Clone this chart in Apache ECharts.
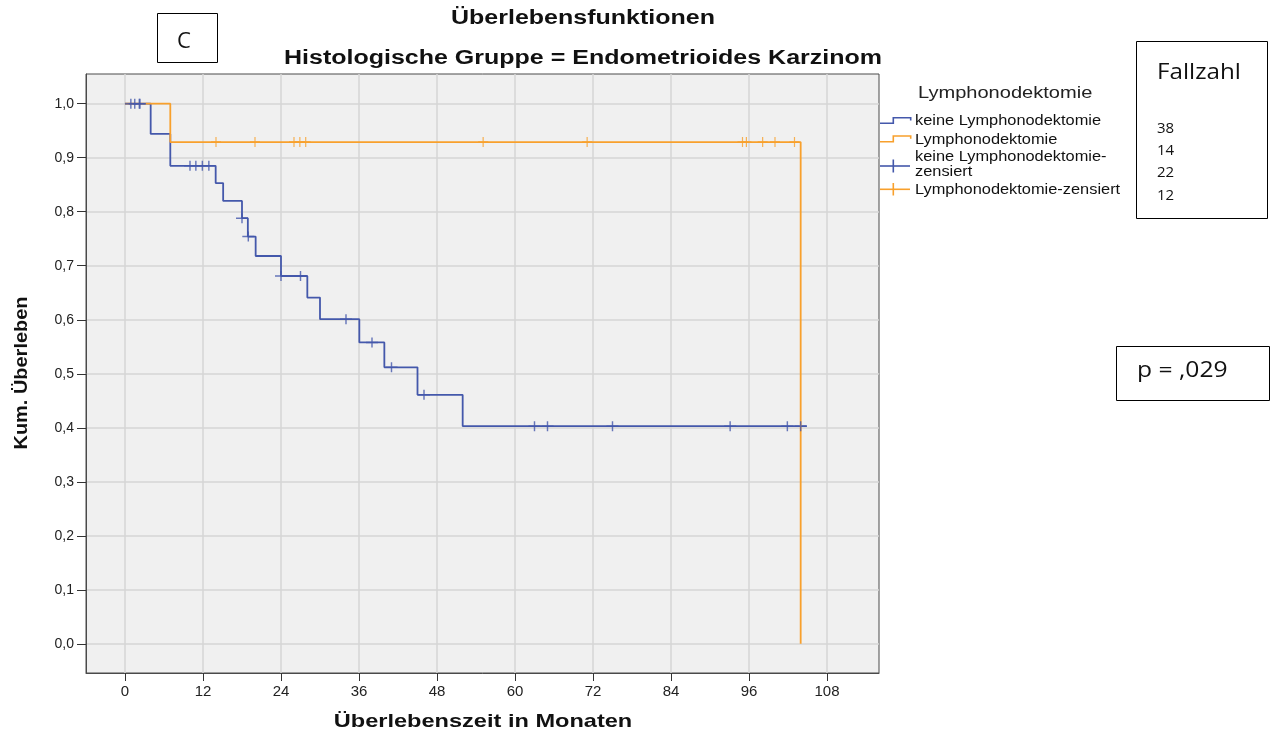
<!DOCTYPE html>
<html>
<head>
<meta charset="utf-8">
<script src="https://cdn.jsdelivr.net/npm/echarts@6/dist/echarts.min.js"></script>
<style>
html,body{margin:0;padding:0;background:#fff;}
#c{width:1273px;height:735px;}
</style>
</head>
<body>
<div id="c"></div>
<script>
// ---- data ----
const xTicks = [0, 12, 24, 36, 48, 60, 72, 84, 96, 108];
const yTicks = [0, 0.1, 0.2, 0.3, 0.4, 0.5, 0.6, 0.7, 0.8, 0.9, 1.0];

const seriesNames = ['keine Lymphonodektomie', 'Lymphonodektomie',
  'keine Lymphonodektomie-zensiert', 'Lymphonodektomie-zensiert'];
const caseCounts = ['38', '14', '22', '12'];
const pValue = 'p = ,029';

// Kaplan-Meier steps: [month, survival after the step]
const keineSteps = [[0, 1.0], [3.95, 0.944], [6.97, 0.885], [13.95, 0.853], [15.1, 0.820],
  [18.0, 0.788], [18.9, 0.754], [20.1, 0.718], [24.0, 0.681], [28.05, 0.641],
  [30.0, 0.601], [36.05, 0.558], [39.9, 0.512], [45.0, 0.461], [51.95, 0.403], [104.9, 0.403]];
const lymphSteps = [[0, 1.0], [6.97, 0.929], [103.95, 0.929], [103.95, 0.0]];

// censored observations
const keineCensored = [[0.9, 1.0], [1.5, 1.0], [2.2, 1.0], [2.3, 1.0],
  [10.0, 0.885], [10.9, 0.885], [11.9, 0.885], [12.9, 0.885],
  [18.0, 0.788], [18.97, 0.754], [24.0, 0.681], [27.0, 0.681], [34.0, 0.601],
  [38.0, 0.558], [41.0, 0.512], [46.0, 0.461],
  [63.0, 0.403], [65.0, 0.403], [75.0, 0.403], [93.1, 0.403], [101.9, 0.403], [103.95, 0.403]];
const lymphCensored = [[14.0, 0.929], [20.0, 0.929], [26.0, 0.929], [26.9, 0.929], [27.8, 0.929],
  [55.1, 0.929], [71.1, 0.929], [95.0, 0.929], [95.6, 0.929], [98.1, 0.929],
  [100.0, 0.929], [103.0, 0.929]];

// ---- styles ----
const BLUE = '#4458ab';
const ORANGE = '#f8a02c';
const CROSS = 'path://M-1,-0.15 L1,-0.15 L1,0.15 L-1,0.15 Z M-0.12,-1 L0.12,-1 L0.12,1 L-0.12,1 Z';
const SANS = '"Liberation Sans", Arial, sans-serif';
const SOFT = '"Open Sans", "Noto Sans", sans-serif';

function txt(text, x, y, font, opts) {
  opts = opts || {};
  return {
    type: 'text', x: x, y: y,
    rotation: opts.rotation || 0,
    scaleX: opts.scaleX || 1,
    z: 100,
    style: {
      text: text, font: font, fill: opts.fill || '#111',
      align: opts.align || 'left', textAlign: opts.align || 'left',
      verticalAlign: 'middle', textVerticalAlign: 'middle'
    }
  };
}
function box(x, y, w, h) {
  return { type: 'rect', shape: { x: x, y: y, width: w, height: h }, z: 90,
    style: { fill: '#fff', stroke: '#000', lineWidth: 1 } };
}
function pline(points, color) {
  return { type: 'polyline', shape: { points: points }, z: 100,
    style: { stroke: color, lineWidth: 1.6, fill: null } };
}

const graphics = [
  txt('Überlebensfunktionen', 583, 18, 'bold 20px ' + SANS, { align: 'center', scaleX: 1.25 }),
  txt('Histologische Gruppe = Endometrioides Karzinom', 583, 58, 'bold 20px ' + SANS, { align: 'center', scaleX: 1.25 }),
  txt('Überlebenszeit in Monaten', 483, 722, 'bold 19px ' + SANS, { align: 'center', scaleX: 1.24 }),
  txt('Kum. Überleben', 22, 373, 'bold 19px ' + SANS, { align: 'center', rotation: Math.PI / 2, scaleX: 1.05 }),
  box(157.5, 13.5, 60, 49),
  txt('C', 184, 42, '22px ' + SOFT, { align: 'center' }),
  // legend
  txt('Lymphonodektomie', 918, 93, '17px ' + SANS, { fill: '#222', scaleX: 1.18 }),
  pline([[880, 123.3], [893.3, 123.3], [893.3, 117.7], [910.7, 117.7], [910.7, 120.5]], BLUE),
  txt(seriesNames[0], 915, 120.7, '14px ' + SANS, { fill: '#111', scaleX: 1.17 }),
  pline([[880, 141.7], [893.3, 141.7], [893.3, 136], [910.7, 136], [910.7, 138.8]], ORANGE),
  txt(seriesNames[1], 915, 140, '14px ' + SANS, { fill: '#111', scaleX: 1.17 }),
  pline([[880, 166], [910, 166]], BLUE),
  pline([[893.3, 159.5], [893.3, 172.5]], BLUE),
  txt('keine Lymphonodektomie-', 915, 157.3, '14px ' + SANS, { fill: '#111', scaleX: 1.17 }),
  txt('zensiert', 915, 171.7, '14px ' + SANS, { fill: '#111', scaleX: 1.17 }),
  pline([[880, 189.3], [910, 189.3]], ORANGE),
  pline([[893.3, 183], [893.3, 195.5]], ORANGE),
  txt(seriesNames[3], 915, 190, '14px ' + SANS, { fill: '#111', scaleX: 1.17 }),
  // case counts
  box(1136.5, 41.5, 131, 177),
  txt('Fallzahl', 1157, 73, '22px ' + SOFT, { scaleX: 1.1 }),
  txt(caseCounts[0], 1157, 129, '15px ' + SOFT),
  txt(caseCounts[1], 1157, 151, '15px ' + SOFT),
  txt(caseCounts[2], 1157, 173, '15px ' + SOFT),
  txt(caseCounts[3], 1157, 195.5, '15px ' + SOFT),
  // p value
  box(1116.5, 346.5, 153, 54),
  txt(pValue, 1137, 371, '22px ' + SOFT, { scaleX: 1.12 })
];

const chart = echarts.init(document.getElementById('c'), null, { renderer: 'canvas' });
chart.setOption({
  animation: false,
  backgroundColor: '#ffffff',
  grid: {
    left: 86, top: 74, right: 1273 - 879, bottom: 735 - 673,
    show: true, backgroundColor: '#f0f0f0', borderColor: '#4a4a4a', borderWidth: 1
  },
  xAxis: {
    type: 'value', min: -6, max: 116,
    axisLine: { show: true, onZero: false, lineStyle: { color: '#4a4a4a', width: 1 } },
    axisTick: { show: true, inside: false, length: 8, customValues: xTicks,
      lineStyle: { color: '#333', width: 1 } },
    axisLabel: { customValues: xTicks, margin: 11, fontSize: 15, color: '#222',
      fontFamily: 'Liberation Sans' },
    splitLine: { show: true, lineStyle: { color: '#d6d6d6', width: 1.5 } }
  },
  yAxis: {
    type: 'value', min: -0.054, max: 1.055,
    axisLine: { show: true, onZero: false, lineStyle: { color: '#4a4a4a', width: 1 } },
    axisTick: { show: true, inside: false, length: 9, customValues: yTicks,
      lineStyle: { color: '#333', width: 1 } },
    axisLabel: { customValues: yTicks, margin: 12, fontSize: 14, color: '#222',
      fontFamily: 'Liberation Sans',
      formatter: function (v) { return v.toFixed(1).replace('.', ','); } },
    splitLine: { show: true, lineStyle: { color: '#d6d6d6', width: 1.5 } }
  },
  series: [
    { name: seriesNames[0], type: 'line', step: 'end', data: keineSteps, showSymbol: false,
      lineStyle: { color: BLUE, width: 1.8 }, z: 3 },
    { name: seriesNames[1], type: 'line', step: 'end', data: lymphSteps, showSymbol: false,
      lineStyle: { color: ORANGE, width: 1.8 }, z: 4 },
    { name: seriesNames[2], type: 'scatter', data: keineCensored, symbol: CROSS,
      symbolSize: [12, 10], itemStyle: { color: BLUE }, z: 5 },
    { name: seriesNames[3], type: 'scatter', data: lymphCensored, symbol: CROSS,
      symbolSize: [10, 10], itemStyle: { color: ORANGE }, z: 6 }
  ],
  graphic: graphics
});
</script>
</body>
</html>
